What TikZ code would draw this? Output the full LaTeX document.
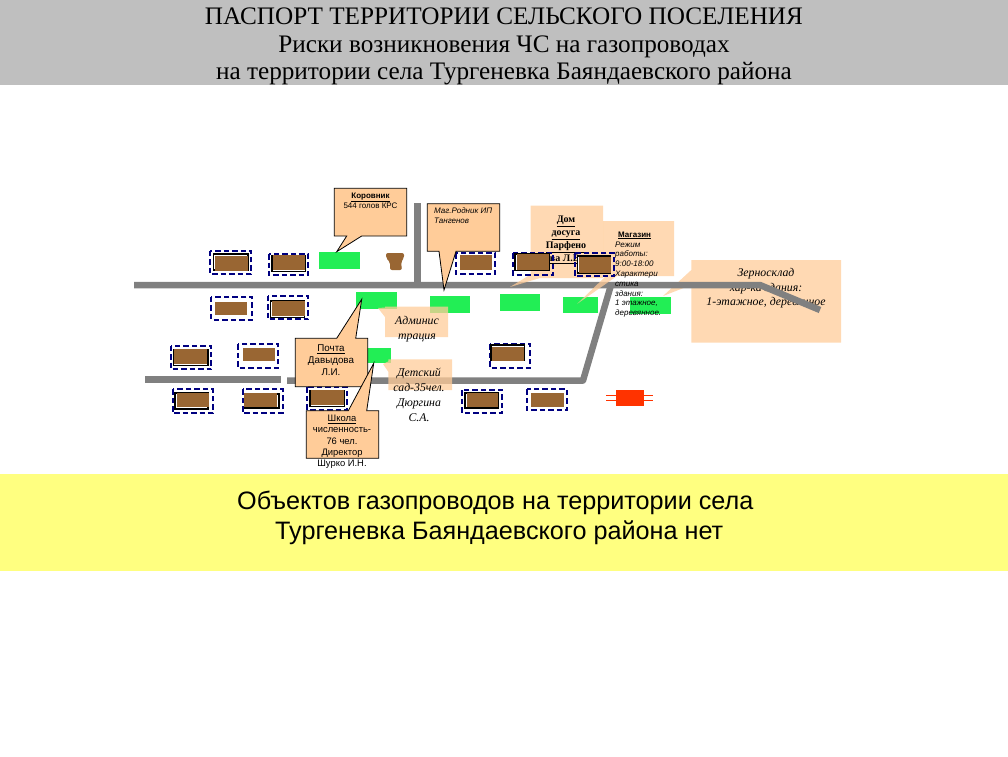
\documentclass[tikz,border=0pt]{standalone}
\usepackage{fontspec}
\setmainfont{Liberation Serif}
\setsansfont{Liberation Sans}
\usetikzlibrary{positioning}
\definecolor{headgray}{HTML}{BFBFBF}
\definecolor{bandyellow}{HTML}{FFFF80}
\definecolor{peach}{HTML}{FFCC99}
\definecolor{grass}{HTML}{22EE55}
\definecolor{wood}{HTML}{996633}
\definecolor{road}{HTML}{808080}
\definecolor{fence}{HTML}{000080}
\definecolor{pipe}{HTML}{FF3300}
\tikzset{
  callbox/.style={draw=black,line width=.8pt,fill=peach},
  softbox/.style={fill=peach,fill opacity=.75},
  roadline/.style={draw=road,line width=6.5pt},
  greenbox/.style={fill=grass},
  serifnote/.style={align=center,inner sep=0pt,font=\fontsize{11.8}{14.8}\selectfont\itshape},
  sansnote/.style={align=center,inner sep=0pt,font=\sffamily\fontsize{9.4}{11.3}\selectfont},
  italnote/.style={align=left,inner sep=0pt,font=\sffamily\itshape\fontsize{8}{9.8}\selectfont}
}
% corners, then the two ends of the pointer base and its tip
\newcommand{\callshape}[8]{\draw[callbox] (#1,#2) -- (#3,#2) -- (#3,#4) -- (#6,#4) -- (#7,#8) -- (#5,#4) -- (#1,#4) -- cycle;}
\newcommand{\callshapeup}[8]{\draw[callbox] (#1,#2) -- (#5,#2) -- (#7,#8) -- (#6,#2) -- (#3,#2) -- (#3,#4) -- (#1,#4) -- cycle;}
\begin{document}
\begin{tikzpicture}[x=1pt,y=-1pt]
\useasboundingbox (0,0) rectangle (1008,756);
\fill[headgray] (0,0) rectangle (1008,85);
\fill[bandyellow] (0,474) rectangle (1008,571);
\node[align=center,inner sep=0pt,font=\fontsize{25.2}{27.7}\selectfont] (title) at (504,46.5)
{ПАСПОРТ ТЕРРИТОРИИ СЕЛЬСКОГО ПОСЕЛЕНИЯ\\Риски возникновения ЧС на газопроводах\\на территории села Тургеневка Баяндаевского района};
\node[align=left,inner sep=0pt,font=\sffamily\fontsize{25.2}{30.5}\selectfont,anchor=north west] (note) at (237,490.5)
{Объектов газопроводов на территории села\\\hspace*{38pt}Тургеневка Баяндаевского района нет};
% zernosklad lies under the road
\fill[softbox] (691.3,260) rectangle (841,342.7) (691.3,270) -- (663,296) -- (691.3,285) -- cycle;
\node[serifnote,anchor=north] (zernoskladText) at (766,268) {Зерносклад\\хар-ка здания:\\1-этажное, деревянное};
\fill[greenbox] (319,252) rectangle (360,269);
\fill[greenbox] (356,292) rectangle (397,309);
\fill[greenbox] (430,296) rectangle (470,312.7);
\fill[greenbox] (500,294) rectangle (540,310.7);
\fill[greenbox] (563,297) rectangle (598.3,313);
\fill[greenbox] (630,297) rectangle (671,314);
\fill[greenbox] (350,347.7) rectangle (391,363.3);
% roads
\draw[roadline] (134,285) -- (760,285) -- (820,310);
\draw[roadline] (417.7,203) -- (417.7,285);
\draw[roadline,line join=round] (287,380.5) -- (583,380.5) -- (611,285);
\draw[roadline] (145,379.5) -- (281,379.5);
% water tower
\fill[wood,rounded corners=2pt] (386,253) -- (404,253) -- (404,258) -- (401,262) -- (402,270) -- (390,270) -- (390,262) -- (386,258) -- cycle;
% gas pipe
\draw[pipe,line width=1.5pt] (606,395.7) -- (653,395.7) (606,400.7) -- (653,400.7);
\fill[pipe] (616,390.3) rectangle (644,405.7);
% soft boxes
\fill[softbox] (530.7,205.7) rectangle (603,278) (533,273) -- (510,287) -- (540,278) -- cycle;
\node[align=center,inner sep=0pt,font=\bfseries\fontsize{10}{13.2}\selectfont,anchor=north] (domText) at (566,215.5)
{\underline{Дом}\\\underline{досуга}\\\underline{Парфено}\\\underline{ва Л.В.}};
\fill[softbox] (603,221) rectangle (674,276) (606,276) -- (577,304) -- (617,276) -- cycle;
\node[italnote,anchor=north west] (magazinText) at (615,231.5)
{\hspace*{3pt}\underline{\upshape\bfseries Магазин}\\Режим\\работы:\\9:00-18:00\\Характери\\стика\\здания:\\1 этажное,\\деревянное.};
\fill[softbox] (385,306.7) rectangle (448,337) (397,306.7) -- (378,308) -- (385,317) -- cycle;
\node[serifnote,anchor=north] (adminText) at (417,316.5) {Админис\\трация};
\fill[softbox] (388.3,359.3) rectangle (452,390) (392,359.5) -- (383,364) -- (388.5,372) -- cycle;
\node[serifnote,anchor=north] (detsadText) at (419,368) {Детский\\сад-35чел.\\Дюргина\\С.А.};
% buildings: fence corners, roof corners, shift of the black frame
\foreach \xa/\ya/\xb/\yb/\xc/\yc/\xd/\yd/\sx/\sy in {
  210.3/250.7/251.3/274.3/215/255.5/248.3/270.7/-1/-1,
  268.7/254/308.3/275/272.7/255/305/270/0/1,
  211.3/296.7/252.3/320/215/301.7/247/315/0/0,
  267.7/295.7/308.3/319.3/272/300.7/305/316/-1/1,
  455.7/253.3/495.3/274.3/460/255/492/270/0/0,
  512.7/253.3/553.3/275/516.7/254.3/549.3/270/-1/0,
  574.7/253.3/614.3/276.3/579/256.7/611/272.7/-1/0,
  170.7/345.7/211.3/369.3/174/349.3/207.3/364/0/1,
  238.3/344.3/278.3/368.3/243/347.7/275.3/361/0/0,
  172.7/389.3/213.3/413.3/176.5/392.7/208.7/407.3/-1/1,
  242.7/389.3/282.7/413.3/244/393.3/277.3/406.7/1/1,
  307.3/387.3/347.3/410/310.7/390/344/405/0/1,
  490/344/530.3/368/491.7/346.7/524/360.7/0/-1,
  461.7/390/502.3/412.7/466.7/393.3/498.3/407.3/-1/0,
  526.7/389.3/567.3/410.3/531.3/392.7/564.3/407.3/0/0}
{
  \draw[fence,line width=1.8pt,dash pattern=on 5.5pt off 3pt] (\xa,\ya) rectangle (\xb,\yb);
  \ifdim\sx pt=0pt\ifdim\sy pt=0pt\else
    \draw[black,line width=1.5pt,fill=white] (\xc+\sx-.5,\yc+\sy-.5) rectangle (\xd+\sx+.5,\yd+\sy+.5);
  \fi\else
    \draw[black,line width=1.5pt,fill=white] (\xc+\sx-.5,\yc+\sy-.5) rectangle (\xd+\sx+.5,\yd+\sy+.5);
  \fi
  \fill[wood] (\xc,\yc) rectangle (\xd,\yd);
}
% callouts with a frame
\callshape{334.3}{188.3}{406.7}{236}{346.7}{361.7}{336.7}{251.7}
\node[sansnote,anchor=north,font=\sffamily\fontsize{8}{10.5}\selectfont] (korovnikText) at (370.5,192.5) {\underline{\bfseries Коровник}\\544 голов КРС};
\callshape{427.3}{203.7}{499.7}{251.3}{439}{456}{444}{290}
\node[italnote,anchor=north west,font=\sffamily\itshape\fontsize{8}{10.5}\selectfont] (magRodnikText) at (434,207) {Маг.Родник ИП\\Тангенов};
\callshapeup{295.3}{338.3}{367.7}{386.7}{336.7}{355.7}{361.7}{299.3}
\node[sansnote,anchor=north,font=\sffamily\fontsize{9.8}{11.7}\selectfont] (pochtaText) at (331,345) {\underline{Почта}\\Давыдова\\Л.И.};
\callshapeup{306.3}{410.7}{378.7}{458.3}{348.3}{366.7}{373.7}{363.3}
\node[sansnote,anchor=north] (shkolaText) at (342,415) {\underline{Школа}\\численность-\\76 чел.\\Директор\\Шурко И.Н.};
\end{tikzpicture}
\end{document}
